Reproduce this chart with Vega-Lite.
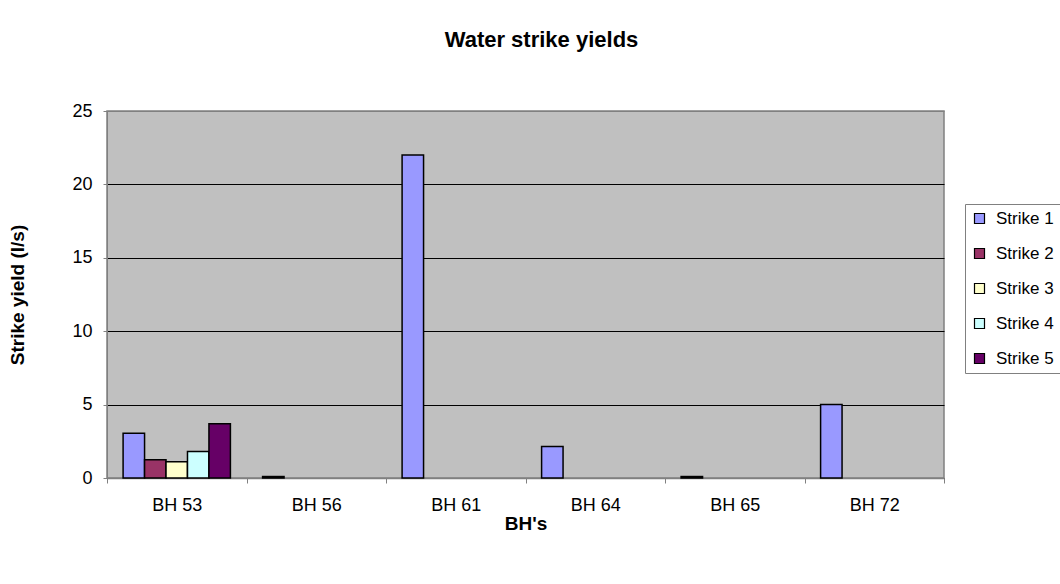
{
  "$schema": "https://vega.github.io/schema/vega-lite/v6.json",
  "width": 837,
  "height": 367,
  "autosize": {"type": "none"},
  "padding": {"left": 107, "top": 111, "right": 116, "bottom": 106},
  "background": "white",
  "title": {
    "text": "Water strike yields",
    "fontSize": 22,
    "fontWeight": "bold",
    "font": "Liberation Sans",
    "letterSpacing": 1,
    "anchor": "middle",
    "dx": 16,
    "offset": 50,
    "color": "black"
  },
  "data": {
    "values": [
      {"bh": "BH 53", "strike": "Strike 1", "yield": 3.05},
      {"bh": "BH 53", "strike": "Strike 2", "yield": 1.25},
      {"bh": "BH 53", "strike": "Strike 3", "yield": 1.1},
      {"bh": "BH 53", "strike": "Strike 4", "yield": 1.8},
      {"bh": "BH 53", "strike": "Strike 5", "yield": 3.7},
      {"bh": "BH 56", "strike": "Strike 1", "yield": 0.1},
      {"bh": "BH 61", "strike": "Strike 1", "yield": 22},
      {"bh": "BH 64", "strike": "Strike 1", "yield": 2.15},
      {"bh": "BH 65", "strike": "Strike 1", "yield": 0.1},
      {"bh": "BH 72", "strike": "Strike 1", "yield": 5}
    ]
  },
  "mark": {"type": "bar", "stroke": "black", "strokeWidth": 1.5, "cornerRadius": 0},
  "encoding": {
    "x": {
      "field": "bh",
      "type": "nominal",
      "sort": null,
      "scale": {"paddingInner": 0, "paddingOuter": 0},
      "axis": {
        "title": "BH's",
        "titleFontSize": 19,
        "titleFont": "Liberation Sans",
        "titleFontWeight": "bold",
        "titleColor": "black",
        "titleX": 418.5,
        "titleY": 45,
        "titleBaseline": "middle",
        "labelAngle": 0,
        "labelFontSize": 18,
        "labelFont": "Liberation Sans",
        "labelColor": "black",
        "labelPadding": 13,
        "tickBand": "extent",
        "tickColor": "#808080",
        "tickSize": 5,
        "domainColor": "#808080",
        "domainWidth": 1.5,
        "grid": false
      }
    },
    "xOffset": {
      "field": "strike",
      "type": "nominal",
      "scale": {"domain": ["Strike 1", "Strike 2", "Strike 3", "Strike 4", "Strike 5"], "paddingInner": 0, "paddingOuter": 0.75}
    },
    "y": {
      "field": "yield",
      "type": "quantitative",
      "scale": {"domain": [0, 25], "nice": false},
      "axis": {
        "title": "Strike yield (l/s)",
        "titleFontSize": 19,
        "titleFont": "Liberation Sans",
        "titleFontWeight": "bold",
        "titleColor": "black",
        "titleX": -90,
        "titleY": 183.5,
        "titleAngle": 270,
        "titleBaseline": "middle",
        "titleAlign": "center",
        "values": [0, 5, 10, 15, 20, 25],
        "labelFontSize": 18,
        "labelFont": "Liberation Sans",
        "labelColor": "black",
        "labelPadding": 11,
        "tickColor": "#808080",
        "tickSize": 4,
        "domainColor": "#808080",
        "grid": true,
        "gridColor": {"condition": {"test": "datum.value == 25", "value": "#808080"}, "value": "black"},
        "gridOpacity": 1,
        "gridWidth": 1.2
      }
    },
    "color": {
      "field": "strike",
      "type": "nominal",
      "scale": {
        "domain": ["Strike 1", "Strike 2", "Strike 3", "Strike 4", "Strike 5"],
        "range": ["#9999FF", "#993366", "#FFFFCC", "#CCFFFF", "#660066"]
      },
      "legend": {
        "title": null,
        "orient": "none",
        "legendX": 858,
        "legendY": 93,
        "strokeColor": "#808080",
        "padding": 6,
        "symbolType": "square",
        "symbolSize": 100,
        "symbolStrokeColor": "black",
        "symbolStrokeWidth": 1.2,
        "symbolOpacity": 1,
        "labelFontSize": 17,
        "labelFont": "Liberation Sans",
        "labelColor": "black",
        "labelOffset": 8,
        "rowPadding": 17
      }
    }
  },
  "config": {
    "view": {"fill": "#C0C0C0", "stroke": "#808080", "strokeWidth": 1.5}
  }
}
